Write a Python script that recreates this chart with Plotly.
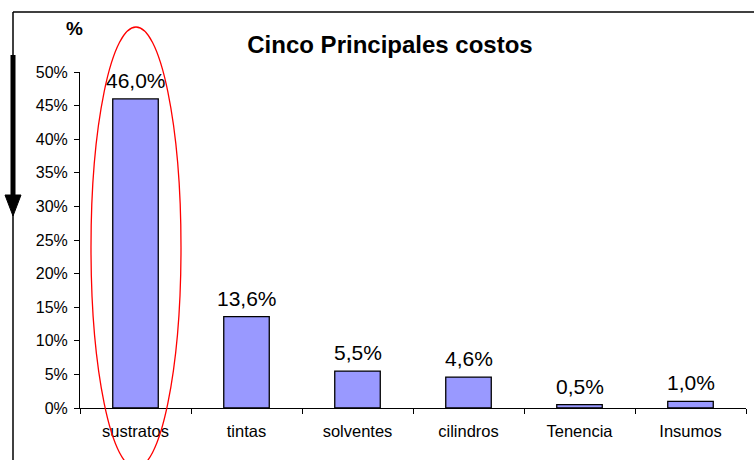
import plotly.graph_objects as go

categories = ["sustratos", "tintas", "solventes", "cilindros", "Tenencia", "Insumos"]
values = [46.0, 13.6, 5.5, 4.6, 0.5, 1.0]
labels = [f"{v:.1f}".replace(".", ",") + "%" for v in values]

W, H = 754, 460
ML, MR, MT, MB = 80, 8, 72, 52
PW, PH = W - ML - MR, H - MT - MB

def px(x):
    return (x - ML) / PW

def py(y):
    return (H - MB - y) / PH

font = "Liberation Sans, Arial, sans-serif"

fig = go.Figure(go.Bar(
    x=categories, y=values,
    marker=dict(color="#9999FF", line=dict(color="black", width=1.3)),
    cliponaxis=False,
))

shapes = [
    # frame lines
    dict(type="line", xref="paper", yref="paper", x0=px(13), x1=px(760), y0=py(12), y1=py(12),
         line=dict(color="black", width=1.5)),
    dict(type="line", xref="paper", yref="paper", x0=px(13), x1=px(13), y0=py(12), y1=py(465),
         line=dict(color="black", width=1.5)),
    # thick arrow shaft
    dict(type="line", xref="paper", yref="paper", x0=px(13), x1=px(13), y0=py(55), y1=py(198),
         line=dict(color="black", width=5)),
    # arrowhead
    dict(type="path", xref="paper", yref="paper",
         path=f"M {px(5)} {py(195)} L {px(21)} {py(195)} L {px(13)} {py(216)} Z",
         fillcolor="black", line=dict(color="black", width=1)),
    # red ellipse
    dict(type="circle", xref="paper", yref="paper", x0=px(91), x1=px(181), y0=py(27), y1=py(468),
         line=dict(color="red", width=1.3), layer="above"),
]

annotations = [dict(text="<b>%</b>", xref="paper", yref="paper", x=px(74), y=py(28),
                    xanchor="center", yanchor="middle",
                    showarrow=False, font=dict(size=19, family=font, color="black"))]
for c, v, t in zip(categories, values, labels):
    annotations.append(dict(x=c, y=v, xref="x", yref="y", text=t, showarrow=False,
                            xanchor="center", yanchor="bottom", yshift=5,
                            font=dict(size=21, family=font, color="black")))

fig.update_layout(
    width=W, height=H,
    margin=dict(l=ML, r=MR, t=MT, b=MB),
    paper_bgcolor="white", plot_bgcolor="white",
    font=dict(family=font, color="black"),
    bargap=0.59,
    showlegend=False,
    shapes=shapes,
    annotations=annotations,
    title=dict(text="<b>Cinco Principales costos</b>", font=dict(size=24, family=font, color="black"),
               x=px(390), xanchor="center", xref="paper", y=(H - 45) / H, yanchor="middle",
               yref="container"),
    xaxis=dict(type="category", showline=True, linecolor="black", linewidth=1,
               ticks="outside", tickson="boundaries", ticklen=5, tickcolor="black",
               ticklabelstandoff=8,
               tickfont=dict(size=16.5, family=font, color="black"), showgrid=False),
    yaxis=dict(range=[0, 50], dtick=5, ticksuffix="%", showline=True, linecolor="black",
               linewidth=1, ticks="outside", ticklen=5, tickcolor="black",
               ticklabelstandoff=3,
               tickfont=dict(size=16, family=font, color="black"), showgrid=False,
               zeroline=False),
)

fig.write_html("out.html", config={"displayModeBar": False},
               post_script="document.body.style.margin='0';document.body.style.overflow='hidden';")
